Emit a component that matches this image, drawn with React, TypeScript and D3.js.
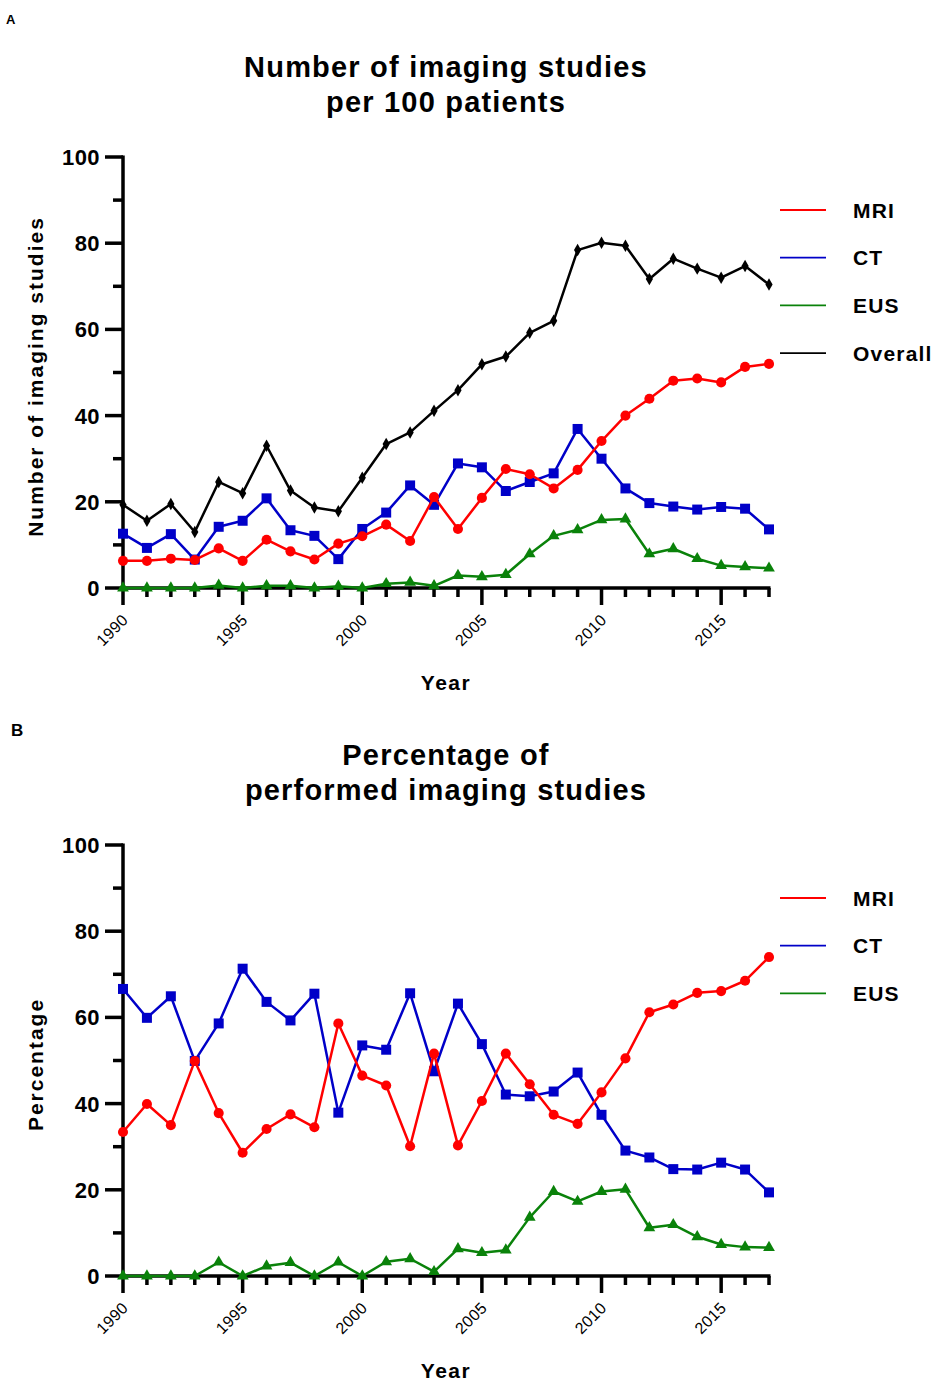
import React, { useEffect, useRef } from 'react';
import * as d3 from 'd3';

const years = d3.range(1990, 2018);

const perPatientMRI = [6.3, 6.3, 6.8, 6.5, 9.2, 6.3, 11.2, 8.5, 6.6, 10.3, 12.0, 14.7, 10.9, 21.1, 13.7, 20.9, 27.6, 26.4, 23.1, 27.4, 34.1, 40.0, 43.9, 48.1, 48.6, 47.7, 51.3, 52.0];
const perPatientCT = [12.6, 9.3, 12.5, 6.6, 14.2, 15.6, 20.8, 13.4, 12.1, 6.7, 13.7, 17.5, 23.8, 19.3, 28.9, 28.0, 22.5, 24.6, 26.6, 36.9, 30.0, 23.1, 19.7, 18.9, 18.2, 18.8, 18.4, 13.6];
const perPatientEUS = [0, 0, 0, 0, 0.6, 0, 0.5, 0.5, 0, 0.4, 0, 1.0, 1.3, 0.5, 2.9, 2.6, 3.1, 7.9, 12.1, 13.5, 15.8, 16.0, 7.9, 9.1, 6.8, 5.2, 4.9, 4.6];
const perPatientOverall = [19.3, 15.6, 19.5, 13.0, 24.6, 22.0, 33.0, 22.6, 18.7, 17.8, 25.6, 33.4, 36.1, 41.1, 45.9, 51.9, 53.7, 59.2, 62.0, 78.4, 80.1, 79.4, 71.7, 76.4, 74.1, 72.0, 74.7, 70.4];

const pctMRI = [33.4, 39.9, 35.0, 49.9, 37.8, 28.6, 34.1, 37.5, 34.5, 58.6, 46.5, 44.2, 30.1, 51.6, 30.3, 40.6, 51.6, 44.5, 37.4, 35.3, 42.6, 50.5, 61.2, 63.0, 65.7, 66.1, 68.5, 74.0];
const pctCT = [66.6, 59.9, 64.9, 49.9, 58.6, 71.3, 63.6, 59.3, 65.5, 37.9, 53.5, 52.5, 65.6, 47.5, 63.2, 53.8, 42.1, 41.7, 42.8, 47.2, 37.4, 29.1, 27.5, 24.8, 24.7, 26.3, 24.7, 19.4];
const pctEUS = [0, 0, 0, 0, 3.2, 0, 2.3, 3.1, 0, 3.2, 0, 3.3, 4.0, 1.0, 6.3, 5.4, 6.0, 13.6, 19.6, 17.3, 19.6, 20.1, 11.2, 11.9, 9.1, 7.3, 6.7, 6.6];

const yTicks = [0, 20, 40, 60, 80, 100];
const xTickLabels = [1990, 1995, 2000, 2005, 2010, 2015];

const RED = '#ff0000';
const BLUE = '#0000c8';
const GREEN = '#0a820a';
const BLACK = '#000000';
const FONT = '"Liberation Sans", Arial, sans-serif';

const panels = [
  {
    letter: 'A',
    letterX: 6,
    letterY: 24,
    letterSize: 13,
    top: 0,
    title: ['Number of imaging studies', 'per 100 patients'],
    yLabel: 'Number of imaging studies',
    series: [
      { name: 'Overall', values: perPatientOverall, color: BLACK, symbol: d3.symbolDiamond, size: 45 },
      { name: 'EUS', values: perPatientEUS, color: GREEN, symbol: d3.symbolTriangle, size: 60 },
      { name: 'CT', values: perPatientCT, color: BLUE, symbol: d3.symbolSquare, size: 100 },
      { name: 'MRI', values: perPatientMRI, color: RED, symbol: d3.symbolCircle, size: 80 },
    ],
    legend: ['MRI', 'CT', 'EUS', 'Overall'],
  },
  {
    letter: 'B',
    letterX: 11,
    letterY: 48,
    letterSize: 17,
    top: 688,
    title: ['Percentage of', 'performed imaging studies'],
    yLabel: 'Percentage',
    series: [
      { name: 'EUS', values: pctEUS, color: GREEN, symbol: d3.symbolTriangle, size: 60 },
      { name: 'CT', values: pctCT, color: BLUE, symbol: d3.symbolSquare, size: 100 },
      { name: 'MRI', values: pctMRI, color: RED, symbol: d3.symbolCircle, size: 80 },
    ],
    legend: ['MRI', 'CT', 'EUS'],
  },
];

const drawPanel = (svg, panel) => {
  const g = svg.append('g').attr('transform', `translate(0,${panel.top})`);
  const x = d3.scaleLinear().domain([1990, 2017]).range([123, 769]);
  const y = d3.scaleLinear().domain([0, 100]).range([588, 157]);

  g.append('text')
    .attr('x', panel.letterX)
    .attr('y', panel.letterY)
    .attr('font-size', panel.letterSize)
    .attr('font-weight', 'bold')
    .text(panel.letter);

  panel.title.forEach((line, i) => {
    g.append('text')
      .attr('x', 446)
      .attr('y', 77 + i * 35)
      .attr('text-anchor', 'middle')
      .attr('font-size', 29)
      .attr('font-weight', 'bold')
      .attr('letter-spacing', 1.2)
      .text(line);
  });

  // y axis
  const yAxis = g.append('g').attr('stroke', '#000').attr('stroke-width', 3.5);
  yAxis.append('line').attr('x1', 123).attr('x2', 123).attr('y1', y(100) - 1.5).attr('y2', y(0));
  d3.range(0, 101, 10).forEach(v => {
    const major = v % 20 === 0;
    yAxis.append('line')
      .attr('x1', major ? 105 : 113)
      .attr('x2', 123)
      .attr('y1', y(v))
      .attr('y2', y(v));
  });
  g.append('g')
    .selectAll('text')
    .data(yTicks)
    .join('text')
    .attr('x', 100)
    .attr('y', d => y(d))
    .attr('dy', '0.36em')
    .attr('text-anchor', 'end')
    .attr('font-size', 22)
    .attr('font-weight', 'bold')
    .attr('letter-spacing', 0.4)
    .text(d => d);

  // x axis
  const xAxis = g.append('g').attr('stroke', '#000').attr('stroke-width', 3.5);
  xAxis.append('line').attr('x1', x(1990) - 1.5).attr('x2', x(2017) + 1.5).attr('y1', y(0)).attr('y2', y(0));
  years.forEach(yr => {
    const major = yr % 5 === 0;
    xAxis.append('line')
      .attr('x1', x(yr))
      .attr('x2', x(yr))
      .attr('y1', y(0))
      .attr('y2', y(0) + (major ? 17 : 9));
  });
  g.append('g')
    .selectAll('text')
    .data(xTickLabels)
    .join('text')
    .attr('transform', d => `translate(${x(d) + 6},${y(0) + 33}) rotate(-45)`)
    .attr('text-anchor', 'end')
    .attr('font-size', 16)
    .attr('letter-spacing', 0.3)
    .text(d => d);

  g.append('text')
    .attr('x', 446)
    .attr('y', 690)
    .attr('text-anchor', 'middle')
    .attr('font-size', 21)
    .attr('font-weight', 'bold')
    .attr('letter-spacing', 1.5)
    .text('Year');

  g.append('text')
    .attr('transform', `translate(43,${(y(0) + y(100)) / 2 + 4}) rotate(-90)`)
    .attr('text-anchor', 'middle')
    .attr('font-size', 21)
    .attr('font-weight', 'bold')
    .attr('letter-spacing', 2)
    .text(panel.yLabel);

  // series
  const line = d3.line().x((d, i) => x(years[i])).y(d => y(d));
  panel.series.forEach(s => {
    g.append('path')
      .datum(s.values)
      .attr('fill', 'none')
      .attr('stroke', s.color)
      .attr('stroke-width', 2.5)
      .attr('stroke-linejoin', 'round')
      .attr('d', line);
    g.append('g')
      .selectAll('path')
      .data(s.values)
      .join('path')
      .attr('transform', (d, i) => `translate(${x(years[i])},${y(d)})`)
      .attr('fill', s.color)
      .attr('d', d3.symbol().type(s.symbol).size(s.size));
  });

  // legend
  const colorOf = name => panel.series.find(s => s.name === name).color;
  panel.legend.forEach((name, i) => {
    const ly = 210 + i * 47.7;
    g.append('line')
      .attr('x1', 780)
      .attr('x2', 826)
      .attr('y1', ly)
      .attr('y2', ly)
      .attr('stroke', colorOf(name))
      .attr('stroke-width', 1.8);
    g.append('text')
      .attr('x', 853)
      .attr('y', ly)
      .attr('dy', '0.36em')
      .attr('font-size', 21)
      .attr('font-weight', 'bold')
      .attr('letter-spacing', 1.2)
      .text(name);
  });
};

export default function App() {
  const ref = useRef(null);

  useEffect(() => {
    const svg = d3.select(ref.current);
    svg.selectAll('*').remove();
    svg.style('font-family', FONT);
    panels.forEach(p => drawPanel(svg, p));
  }, []);

  return (
    <svg
      ref={ref}
      width={936}
      height={1384}
      style={{ position: 'absolute', left: 0, top: 0, background: '#fff' }}
    />
  );
}
